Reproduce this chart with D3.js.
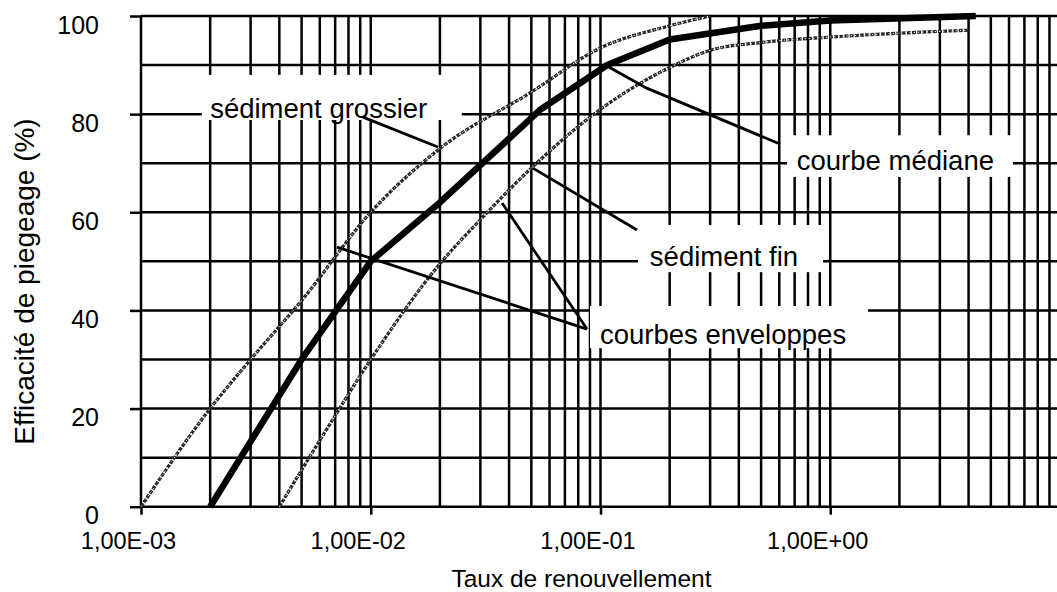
<!DOCTYPE html>
<html>
<head>
<meta charset="utf-8">
<script src="https://cdn.jsdelivr.net/npm/d3@7"></script>
<style>
    body { margin: 0; background: #fff; }
    svg { display: block; }
    text { font-family: "Liberation Sans", Arial, Helvetica, sans-serif; fill: #000; }
</style>
</head>
<body>
<svg id="chart"></svg>
<script>
// Efficacité de piégeage en fonction du taux de renouvellement (axe x logarithmique)

// courbe médiane
const medianX = [0.002, 0.005, 0.01, 0.02, 0.055, 0.107, 0.2, 0.5, 1, 4.3]
const medianY = [0, 30, 50, 62, 81, 90, 95.2, 98, 99.1, 100]

// courbe enveloppe - sédiment grossier
const grossierX = [0.001, 0.002, 0.003, 0.005, 0.01, 0.02, 0.05, 0.1, 0.2, 0.3]
const grossierY = [0, 20, 30, 42, 60, 73, 84.5, 93.5, 98, 100]

// courbe enveloppe - sédiment fin
const finX = [0.004, 0.006, 0.01, 0.02, 0.03, 0.05, 0.1, 0.2, 0.3, 0.5, 1, 2, 4]
const finY = [0, 13.5, 30, 49.5, 58.5, 69, 81, 89.5, 93, 94.6, 95.7, 96.5, 97.1]

// axes
const xTicks = [1e-3, 1e-2, 1e-1, 1]
const xTickLabels = ["1,00E-03", "1,00E-02", "1,00E-01", "1,00E+00"]
const yTicks = [0, 20, 40, 60, 80, 100]
const yGrid = d3.range(0, 101, 10)

// annotations (en unités du graphique : taux, %)
const notes = [
    { text: "sédiment grossier", at: [0.002, 79.3], box: [0.00184, 0.0249, 78.8, 88],
      leaders: [[[0.00925, 79.4], [0.0196, 73.3]]] },
    { text: "courbe médiane", at: [0.715, 68.6], box: [0.648, 6.24, 67.2, 75.7],
      leaders: [[[0.1067, 89.8], [0.159, 85.3], [0.604, 73.9]]] },
    { text: "sédiment fin", at: [0.164, 49.05], box: [0.1456, 0.93, 47.8, 57.4],
      leaders: [[[0.0508, 69], [0.1442, 56.4]]] },
    { text: "courbes enveloppes", at: [0.0995, 33.16], box: [0.09, 1.46, 32.3, 40.9],
      leaders: [[[0.0373, 61.9], [0.0873, 36.2]], [[0.00713, 52.9], [0.0873, 36.2]]] }
]

let svgWidth = 1057
let svgHeight = 592

const svg = d3.select("#chart")
    .attr("width", svgWidth)
    .attr("height", svgHeight)

const x = d3.scaleLog()
    .domain([1e-3, 10])
    .range([141, 1060])

const y = d3.scaleLinear()
    .domain([0, 100])
    .range([506.7, 16])

const gridColor = "#000"
const gridWidth = 2.5

// grille
const grid = svg.append("g").attr("id", "grid")

grid.selectAll("line.v")
    .data(x.ticks())
    .enter()
    .append("line")
    .attr("class", "v")
    .attr("x1", d => x(d)).attr("x2", d => x(d))
    .attr("y1", y(100)).attr("y2", y(0))
    .attr("stroke", gridColor)
    .attr("stroke-width", gridWidth)

grid.selectAll("line.h")
    .data(yGrid)
    .enter()
    .append("line")
    .attr("class", "h")
    .attr("x1", x(1e-3)).attr("x2", x(10))
    .attr("y1", d => y(d)).attr("y2", d => y(d))
    .attr("stroke", gridColor)
    .attr("stroke-width", gridWidth)

// axes
const yAxis = svg.append("g")
    .attr("transform", `translate(${x(1e-3)}, 0)`)
    .call(d3.axisLeft(y)
        .tickValues(yTicks)
        .tickSize(11)
        .tickPadding(31)
        .tickFormat(d3.format("d")))

yAxis.select(".domain").remove()
yAxis.selectAll("line").attr("stroke", gridColor).attr("stroke-width", gridWidth)
yAxis.selectAll("text")
    .attr("y", 9)
    .attr("font-size", 25)
    .attr("font-family", null)

const xAxis = svg.append("g")
    .attr("transform", `translate(0, ${y(0)})`)
    .call(d3.axisBottom(x)
        .tickValues(xTicks)
        .tickSize(8)
        .tickFormat((d, i) => xTickLabels[i]))

xAxis.select(".domain").remove()
xAxis.selectAll("line").attr("stroke", gridColor).attr("stroke-width", gridWidth)
xAxis.selectAll("text")
    .attr("x", -13)
    .attr("y", 34)
    .attr("dy", "0.35em")
    .attr("font-size", 23.5)
    .attr("font-family", null)

// cadres blancs des étiquettes
svg.append("g")
    .selectAll("rect")
    .data(notes)
    .enter()
    .append("rect")
    .attr("x", d => x(d.box[0]))
    .attr("width", d => x(d.box[1]) - x(d.box[0]))
    .attr("y", d => y(d.box[3]))
    .attr("height", d => y(d.box[2]) - y(d.box[3]))
    .attr("fill", "#fff")

// courbes
const line = d3.line()
    .x(d => x(d[0]))
    .y(d => y(d[1]))

const smooth = d3.line()
    .curve(d3.curveMonotoneX)
    .x(d => x(d[0]))
    .y(d => y(d[1]))

const envelopes = [
    d3.zip(grossierX, grossierY),
    d3.zip(finX, finY)
]

const env = svg.append("g").attr("id", "envelopes")

env.selectAll("path.base")
    .data(envelopes)
    .enter()
    .append("path")
    .attr("class", "base")
    .attr("fill", "none")
    .attr("stroke", "#262626")
    .attr("stroke-width", 3.2)
    .attr("stroke-dasharray", "4 1.2")
    .attr("d", d => smooth(d))

env.selectAll("path.hatch")
    .data(envelopes)
    .enter()
    .append("path")
    .attr("class", "hatch")
    .attr("fill", "none")
    .attr("stroke", "#fff")
    .attr("stroke-width", 1)
    .attr("stroke-dasharray", "1.2 3")
    .attr("d", d => smooth(d))

svg.append("path")
    .attr("id", "median")
    .attr("fill", "none")
    .attr("stroke", "#000")
    .attr("stroke-width", 6.5)
    .attr("stroke-linejoin", "round")
    .attr("d", line(d3.zip(medianX, medianY)))

// traits de rappel
svg.append("g")
    .selectAll("path")
    .data(notes.flatMap(n => n.leaders))
    .enter()
    .append("path")
    .attr("fill", "none")
    .attr("stroke", "#000")
    .attr("stroke-width", 2.8)
    .attr("d", d => line(d))

// étiquettes
svg.append("g")
    .selectAll("text")
    .data(notes)
    .enter()
    .append("text")
    .attr("x", d => x(d.at[0]))
    .attr("y", d => y(d.at[1]))
    .attr("font-size", 27.5)
    .text(d => d.text)

// titres des axes
svg.append("text")
    .attr("x", 581.5)
    .attr("y", 587)
    .attr("text-anchor", "middle")
    .attr("font-size", 24.5)
    .text("Taux de renouvellement")

svg.append("text")
    .attr("transform", "translate(33.5, 281.5) rotate(-90)")
    .attr("text-anchor", "middle")
    .attr("font-size", 28)
    .text("Efficacité de piegeage (%)")
</script>
</body>
</html>
